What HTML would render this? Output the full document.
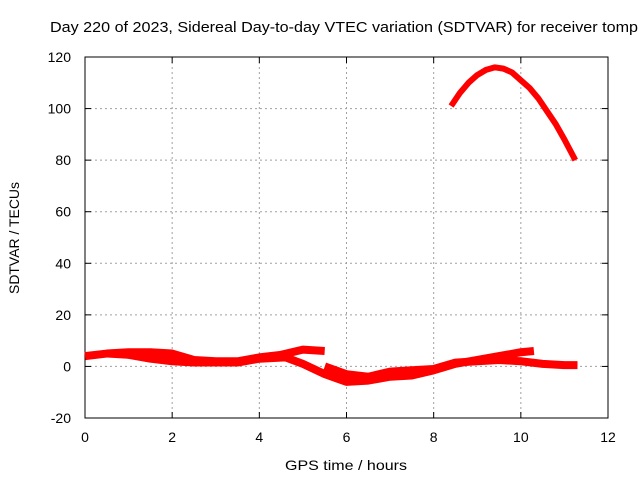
<!DOCTYPE html>
<html><head><meta charset="utf-8"><style>body{margin:0;background:#fff}svg{display:block}text{font-family:"Liberation Sans",sans-serif;font-size:14px;fill:#000}</style></head>
<body>
<svg id="c" width="640" height="480" viewBox="0 0 640 480">
<rect width="640" height="480" fill="#fff"/>
<g id="grid"></g><g id="axes"></g><g id="series"></g>
<text x="50" y="32" textLength="588" lengthAdjust="spacingAndGlyphs" style="font-size:15px">Day 220 of 2023, Sidereal Day-to-day VTEC variation (SDTVAR) for receiver tomp</text>
<text x="346" y="470" text-anchor="middle" textLength="122" lengthAdjust="spacingAndGlyphs">GPS time / hours</text>
<text transform="translate(19,238) rotate(-90)" text-anchor="middle" textLength="112" lengthAdjust="spacingAndGlyphs">SDTVAR / TECUs</text>
</svg>
<script>
const xTicks=[0,2,4,6,8,10,12];
const yTicks=[-20,0,20,40,60,80,100,120];
const seriesUpperX=[0,0.5,1,1.5,2,2.5,3,3.5,4,4.5,5,5.5];
const seriesUpperY=[4,5,5.5,5.5,5,2.5,2,2,3.5,4.5,6.5,6];
const seriesLowerX=[0.5,1,1.5,2,2.5,3,3.5,4,4.6,5,5.5,6,6.5,7,7.5,8,8.5,9,9.5,10,10.3];
const seriesLowerY=[5,4.5,3,2,1.5,1.5,1.5,3,3.5,1,-3,-6,-5.5,-4,-3.5,-1.5,1,2.5,4,5.5,6];
const seriesMidX=[5.5,6,6.5,7,7.5,8,8.5,9,9.5,10,10.5,11,11.3];
const seriesMidY=[0,-3,-4,-2,-1.5,-1,1.5,2,2.5,2,1,0.5,0.5];
const seriesHighX=[8.4,8.6,8.8,9,9.2,9.4,9.6,9.8,10,10.2,10.4,10.6,10.8,11,11.25];
const seriesHighY=[101,106,110,113,115,116,115.5,114,111,108,104,99,94,88,80];
const L=85,R=608,T=57,B=418,x0=0,x1=12,y0=-20,y1=120;
const sx=v=>L+(v-x0)/(x1-x0)*(R-L), sy=v=>B-(v-y0)/(y1-y0)*(B-T);
const NS="http://www.w3.org/2000/svg";
function mk(t,a,p){const e=document.createElementNS(NS,t);for(const k in a)e.setAttribute(k,a[k]);p.appendChild(e);return e;}
const g=document.getElementById('grid'),ax=document.getElementById('axes'),sg=document.getElementById('series');
xTicks.forEach(v=>{const x=sx(v);
 if(v>x0&&v<x1){const l=mk('line',{x1:x,x2:x,y1:T,y2:B,stroke:'#a0a0a0','stroke-dasharray':'2,3'},g);
 
 }
 mk('line',{x1:x,x2:x,y1:B,y2:B-6,stroke:'#000'},ax);mk('line',{x1:x,x2:x,y1:T,y2:T+6,stroke:'#000'},ax);
 const t=mk('text',{x:x,y:B+24,'text-anchor':'middle'},ax);t.textContent=v;
 
 });
yTicks.forEach(v=>{const y=sy(v);
 if(v>y0&&v<y1){const l=mk('line',{x1:L,x2:R,y1:y,y2:y,stroke:'#a0a0a0','stroke-dasharray':'2,3'},g);
 
 }
 mk('line',{x1:L,x2:L+6,y1:y,y2:y,stroke:'#000'},ax);mk('line',{x1:R,x2:R-6,y1:y,y2:y,stroke:'#000'},ax);
 const t=mk('text',{x:L-14,y:y+5,'text-anchor':'end'},ax);t.textContent=v;
 
 });
mk('rect',{x:L,y:T,width:R-L,height:B-T,fill:'none',stroke:'#000'},ax);
function series(xs,ys,w,name){const pts=xs.map((x,i)=>sx(x)+','+sy(ys[i])).join(' ');
 const p=mk('polyline',{points:pts,fill:'none',stroke:'#ff0000','stroke-width':w,'stroke-linejoin':'round'},sg);
 
 }
series(seriesUpperX,seriesUpperY,8,'series-upper-branch');
series(seriesLowerX,seriesLowerY,8,'series-lower-branch');
series(seriesMidX,seriesMidY,8,'series-mid-branch');
series(seriesHighX,seriesHighY,6,'series-high-arc');
</script>
</body></html>
